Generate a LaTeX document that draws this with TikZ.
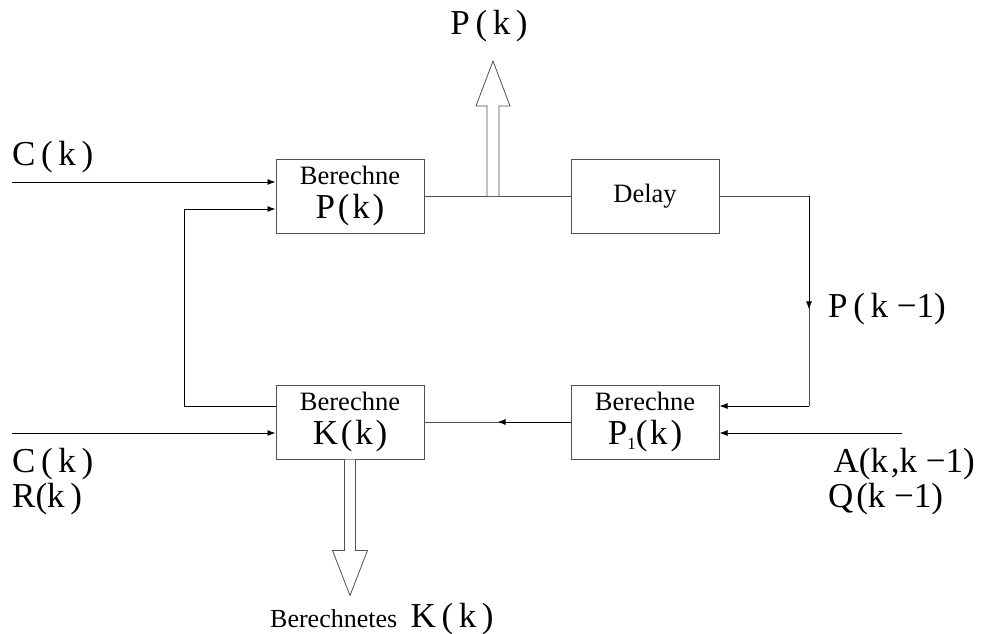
\documentclass[tikz,border=0pt]{standalone}
\usepackage{fontspec}
\setmainfont{Liberation Serif}
\usepackage{tikz}
\usetikzlibrary{arrows.meta,positioning,calc}
\definecolor{linegray}{RGB}{80,80,80}
\newcommand\lblfont{\fontsize{35}{38}\selectfont}
\newcommand\lgap{\hspace{0.16em}}
\newcommand\sgap{\hspace{0.08em}}
\tikzset{
  box/.style={rectangle, draw=linegray, line width=1pt,
              minimum width=148pt, minimum height=74pt, inner sep=0pt,
              font=\fontsize{26.5}{32}\selectfont, text centered, align=center},
  arr/.style={-{Latex[length=8pt,width=6pt]}, line width=0.9pt},
  wire/.style={line width=0.9pt, draw=linegray},
  hollow/.style={draw=linegray, fill=white, line width=0.8pt},
  lbl/.style={font=\lblfont, inner sep=0pt},
}
\begin{document}
\begin{tikzpicture}[x=1pt,y=-1pt]
        \useasboundingbox (0,0) rectangle (981,633);
        % blocks
        \node[box] (bp) at (350,196)
              {Berechne\\[2pt]{\lblfont P\sgap(\sgap k\sgap)}};
        \node[box, right=146pt of bp] (delay) {Delay};
        \node[box, below=151pt of bp] (bk)
              {Berechne\\[2pt]{\lblfont K\sgap(\sgap k\sgap)}};
        \node[box, right=146pt of bk] (p1)
              {Berechne\\[2pt]{\lblfont P\raisebox{-5pt}{\fontsize{17}{17}\selectfont 1}(\sgap k\sgap)}};
        % free ends
        \coordinate (cin1) at (12,182);
        \coordinate (cin2) at (12,433);
        \coordinate (ain) at (902,433);
        \coordinate (rtop) at (809,196);
        \coordinate (rbot) at (809,406);
        \coordinate (tap) at (493,196);
        % inputs
        \draw[arr] (cin1) -- (cin1 -| bp.west);
        \draw[arr] (cin2) -- (cin2 -| bk.west);
        \draw[arr] (ain) -- (ain -| p1.east);
        % feedback K -> P
        \draw[arr] ([yshift=15.5pt]bk.west) -- ++(-91,0) |- ([yshift=-13pt]bp.west);
        % P -> delay -> P1
        \draw[wire] (bp.east) -- (delay.west);
        \draw[wire] (delay.east) -- (rtop) -- (rbot);
        \draw[arr] (rtop) -- ($(rtop)!0.54!(rbot)$);
        \draw[arr] (rbot) -- (rbot -| p1.east);
        % P1 -> K
        \draw[wire] (p1.west) -- (bk.east);
        \draw[arr] (p1.west) -- ($(p1.west)!0.5!(bk.east)$);
        % hollow outputs
        \draw[hollow] ($(tap)+(-6,0)$) -- ++(0,-90) -- ++(-11,0)
              -- ($(tap)+(0,-135)$) -- ++(17,45) -- ++(-11,0) -- ($(tap)+(6,0)$);
        \draw[hollow] ([xshift=-5.5pt]bk.south) -- ++(0,91) -- ++(-12,0)
              -- ($(bk.south)+(0,136)$) -- ++(17.5,-45) -- ++(-12,0)
              -- ([xshift=5.5pt]bk.south);
        % labels
        \node[lbl] (pkout) at (489,26) {P\lgap(\lgap k\lgap)};
        \node[lbl, anchor=west] (ckup) at (12,157) {C\lgap(\lgap k\lgap)};
        \node[lbl, anchor=west] (pkm) at (828,309) {P\lgap(\lgap k \textminus1)};
        \node[lbl, anchor=west] (cklow) at (12,464) {C\lgap(\lgap k\lgap)};
        \node[lbl, anchor=west] (rk) at (12,499) {R(k\lgap)};
        \node[lbl, anchor=east] (akk) at (975,464) {A(k\sgap,k \textminus1)};
        \node[lbl, anchor=west] (qk) at (828,499) {Q\sgap(k \textminus1)};
        \node[inner sep=0pt, font=\fontsize{26}{30}\selectfont, anchor=base west]
              (bres) at (270,627) {Berechnetes};
        \node[lbl, base right=13pt of bres] (kout) {K\lgap(\lgap k\lgap)};
      \end{tikzpicture}
\end{document}
